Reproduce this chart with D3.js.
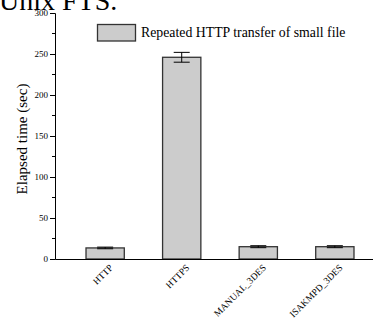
<!DOCTYPE html>
<html>
<head>
<meta charset="utf-8">
<script src="https://cdn.jsdelivr.net/npm/d3@7"></script>
<style>
  html, body { margin: 0; padding: 0; background: #fff; overflow: hidden; }
  svg { display: block; font-family: "Liberation Serif", "Times New Roman", serif; }
</style>
</head>
<body>
<svg id="chart" width="373" height="324"></svg>
<script>
// Elapsed time for repeated HTTP transfers of a small file
const categories = ["HTTP", "HTTPS", "MANUAL_3DES", "ISAKMPD_3DES"];
const elapsed = [13.5, 246, 15, 15];
const errors = [1, 6, 1.2, 1.2];
const yTicks = [0, 50, 100, 150, 200, 250, 300];
const legendLabel = "Repeated HTTP transfer of small file";
const yLabel = "Elapsed time (sec)";
const title = "Unix FTS.";

const svg = d3.select("#chart");

const x = d3.scaleBand().domain(categories).range([55, 385])
  .paddingInner(0.5).paddingOuter(0.405);
const y = d3.scaleLinear().domain([0, 300]).range([259, 13]);

// Heading, partly above the page edge
svg.append("text").attr("x", -1).attr("y", 10)
  .attr("font-size", 28).attr("fill", "#000").text(title);

// Y axis with major and minor ticks
const yAxis = d3.axisLeft(y).tickValues(yTicks).tickSize(5).tickPadding(2);
const gy = svg.append("g").attr("transform", "translate(55,0)").call(yAxis);
gy.select(".domain").attr("stroke", "#000").attr("stroke-width", 1);
gy.selectAll(".tick line").attr("stroke", "#000");
gy.selectAll(".tick text").attr("font-size", 9).attr("font-family", "Liberation Serif");
const minor = d3.range(25, 300, 50);
gy.selectAll(".minor").data(minor).enter().append("line")
  .attr("class", "minor")
  .attr("x1", -3).attr("x2", 0)
  .attr("y1", d => y(d)).attr("y2", d => y(d))
  .attr("stroke", "#000");

// Y axis title
svg.append("text")
  .attr("transform", `translate(27,${(y(0) + y(300)) / 2 + 3}) rotate(-90)`)
  .attr("text-anchor", "middle").attr("font-size", 15).text(yLabel);

// Bars
svg.selectAll(".bar").data(categories).enter().append("rect")
  .attr("class", "bar")
  .attr("x", d => x(d))
  .attr("y", (d, i) => y(elapsed[i]))
  .attr("width", x.bandwidth())
  .attr("height", (d, i) => y(0) - y(elapsed[i]))
  .attr("fill", "#cccccc").attr("stroke", "#333").attr("stroke-width", 1.3);

// Error bars
const cap = 8;
const eb = svg.selectAll(".err").data(categories).enter().append("g").attr("class", "err");
eb.append("line")
  .attr("x1", d => x(d) + x.bandwidth() / 2).attr("x2", d => x(d) + x.bandwidth() / 2)
  .attr("y1", (d, i) => y(elapsed[i] + errors[i])).attr("y2", (d, i) => y(elapsed[i] - errors[i]))
  .attr("stroke", "#000");
[1, -1].forEach(s => {
  eb.append("line")
    .attr("x1", d => x(d) + x.bandwidth() / 2 - cap).attr("x2", d => x(d) + x.bandwidth() / 2 + cap)
    .attr("y1", (d, i) => y(elapsed[i] + s * errors[i])).attr("y2", (d, i) => y(elapsed[i] + s * errors[i]))
    .attr("stroke", "#000");
});

// X axis line and rotated category labels
const gx = svg.append("g").attr("transform", `translate(0,${y(0)})`)
  .call(d3.axisBottom(x).tickSize(0).tickPadding(0));
gx.select(".domain").attr("stroke", "#000").attr("stroke-width", 1.2);
gx.selectAll(".tick text")
  .attr("font-size", 9.5).attr("font-family", "Liberation Serif")
  .attr("text-anchor", "end")
  .attr("transform", "translate(6,7) rotate(-45)")
  .attr("dy", "0.35em");

// Legend
svg.append("rect").attr("x", 97.5).attr("y", 24.5).attr("width", 38).attr("height", 16.5)
  .attr("fill", "#cccccc").attr("stroke", "#333").attr("stroke-width", 1.3);
svg.append("text").attr("x", 141).attr("y", 37).attr("font-size", 13.8).text(legendLabel);
</script>
</body>
</html>
